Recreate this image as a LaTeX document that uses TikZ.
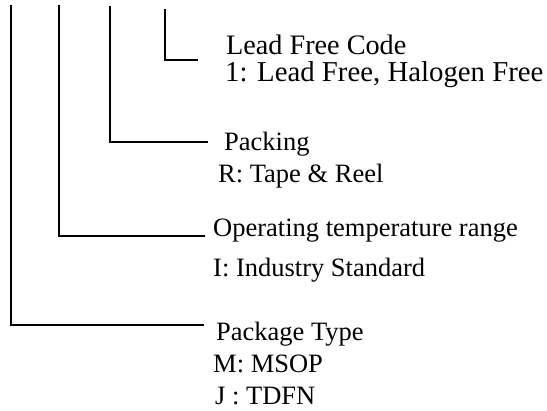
\documentclass[tikz,border=0pt]{standalone}
\usepackage{fontspec}
\setmainfont{Liberation Serif}
\begin{document}
\begin{tikzpicture}[x=1pt,y=-1pt,
  leader/.style={line width=2pt,line cap=rect,line join=miter},
  lbl/.style={anchor=base west,inner sep=0pt,font=\fontsize{26.5}{26.5}\selectfont},
  biglbl/.style={lbl,font=\fontsize{28.2}{28.2}\selectfont}]
\useasboundingbox (0,0) rectangle (547,411);
% leader lines
\coordinate (t1) at (11,6);   \coordinate (c1) at (11,325);  \coordinate (e1) at (203,325);
\coordinate (t2) at (59,6);   \coordinate (c2) at (59,236);  \coordinate (e2) at (204,236);
\coordinate (t3) at (110,7);  \coordinate (c3) at (110,142); \coordinate (e3) at (207,142);
\coordinate (t4) at (165,10); \coordinate (c4) at (165,60);  \coordinate (e4) at (197,60);
\draw[leader] (t1) -- (c1) -- (e1);
\draw[leader] (t2) -- (c2) -- (e2);
\draw[leader] (t3) -- (c3) -- (e3);
\draw[leader] (t4) -- (c4) -- (e4);
% labels
\node[biglbl] (lf)  at (226,55)  {Lead Free Code};
\node[biglbl,font=\fontsize{28.8}{28.8}\selectfont] (lf1) at (225,82) {1: Lead Free, Halogen Free};
\node[lbl] (pk)  at (224,151) {Packing};
\node[lbl] (pk1) at (218,183) {R: Tape \& Reel};
\node[lbl] (op)  at (213,237) {Operating temperature range};
\node[lbl] (op1) at (213,277) {I: Industry Standard};
\node[lbl] (pt)  at (216,341) {Package Type};
\node[lbl] (pt1) at (213,373) {M: MSOP};
\node[lbl] (pt2) at (215,405) {J : TDFN};
\end{tikzpicture}
\end{document}
